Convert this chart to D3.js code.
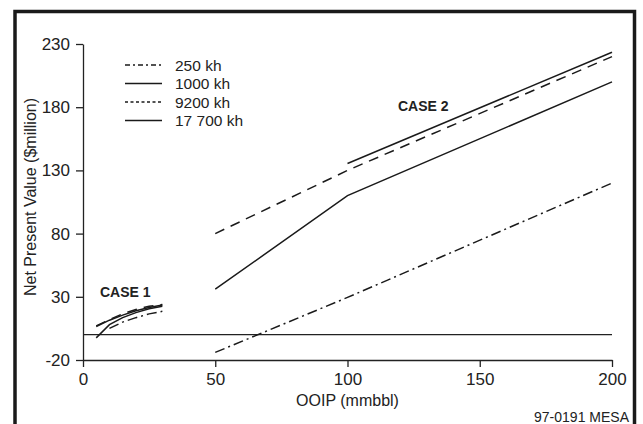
<!DOCTYPE html>
<html>
<head>
<meta charset="utf-8">
<script src="https://cdn.jsdelivr.net/npm/d3@7"></script>
<style>
  body { margin: 0; background: #fff; }
  text { fill: #222; }
</style>
</head>
<body>
<div id="myChart"></div>
<script>
// data
const seriesNames = ["250 kh", "1000 kh", "9200 kh", "17 700 kh"];

// CASE 1 (small fields)
const case1Ooip = [5, 10, 15, 20, 25, 30];
const case1Npv250 = [null, 5, 10, 13.5, 16.5, 18.5];
const case1Npv1000 = [-2.5, 8, 13.5, 17.5, 20.5, 22.5];
const case1Npv9200 = [7, 12, 16.5, 20, 22.5, 24];
const case1Npv17700 = [6.5, 11.5, 15.5, 19, 21.5, 23.5];

// CASE 2 (large fields)
const case2Ooip = [50, 100, 200];
const case2Npv250 = [-14, 29.5, 120];
const case2Npv1000 = [36, 110, 200];
const case2Npv9200 = [80, 130, 220];
const case2Npv17700 = [null, 135.5, 223.5];

const xTicks = [0, 50, 100, 150, 200];
const yTicks = [-20, 30, 80, 130, 180, 230];

const W = 643, H = 424;
const margin = { top: 44, right: 31, bottom: 64, left: 83 },
  width = W - margin.left - margin.right,
  height = H - margin.top - margin.bottom;

const lineDash = ["10,4,2,4", null, "10,7", null];
const legendDash = ["5,3,2,3", null, "3,2.5", null];

const fontFam = "'Liberation Sans', Arial, sans-serif";

const svg = d3
  .select("#myChart")
  .append("svg")
  .attr("width", W)
  .attr("height", H);

// frame around the figure (bottom runs off the page)
svg
  .append("rect")
  .attr("x", 15)
  .attr("y", 11.5)
  .attr("width", 619.5)
  .attr("height", 460)
  .attr("fill", "none")
  .attr("stroke", "#1a1a1a")
  .attr("stroke-width", 3.5);

const g = svg
  .append("g")
  .attr("transform", "translate(" + margin.left + "," + margin.top + ")");

const x = d3.scaleLinear().domain([0, 200]).range([0, width]);
const y = d3.scaleLinear().domain([-20, 230]).range([height, 0]);

// axes (plain hyphen for negatives, like the original)
const fmt = (d) => String(d);

const xAxis = g
  .append("g")
  .attr("transform", "translate(0," + height + ")")
  .call(d3.axisBottom(x).tickValues(xTicks).tickFormat(fmt).tickSize(7).tickSizeOuter(0).tickPadding(6));

const yAxis = g
  .append("g")
  .call(d3.axisLeft(y).tickValues(yTicks).tickFormat(fmt).tickSize(7).tickSizeOuter(0).tickPadding(6));

[xAxis, yAxis].forEach((a) => {
  a.selectAll("path, line").attr("stroke", "#222").attr("stroke-width", 1.3);
  a.selectAll("text")
    .style("font-family", fontFam)
    .style("font-size", "17px")
    .attr("fill", "#222");
});

// zero line
g.append("line")
  .attr("x1", x(0))
  .attr("x2", x(200))
  .attr("y1", y(0))
  .attr("y2", y(0))
  .attr("stroke", "#222")
  .attr("stroke-width", 1.3);

const line = d3
  .line()
  .defined((d) => d[1] !== null)
  .x((d) => x(d[0]))
  .y((d) => y(d[1]));

const case1 = [case1Npv250, case1Npv1000, case1Npv9200, case1Npv17700];
const case2 = [case2Npv250, case2Npv1000, case2Npv9200, case2Npv17700];

seriesNames.forEach((name, i) => {
  const pts1 = case1Ooip.map((o, j) => [o, case1[i][j]]);
  const pts2 = case2Ooip.map((o, j) => [o, case2[i][j]]);
  [pts1, pts2].forEach((pts) => {
    g.append("path")
      .datum(pts)
      .attr("d", line)
      .attr("fill", "none")
      .attr("stroke", "#1a1a1a")
      .attr("stroke-width", 1.5)
      .attr("stroke-dasharray", lineDash[i]);
  });
});

// legend
const legend = svg.append("g").attr("transform", "translate(125,65)");
seriesNames.forEach((name, i) => {
  const row = legend.append("g").attr("transform", "translate(0," + i * 18.5 + ")");
  row
    .append("line")
    .attr("x1", 0)
    .attr("x2", 37)
    .attr("y1", 0)
    .attr("y2", 0)
    .attr("stroke", "#1a1a1a")
    .attr("stroke-width", 1.5)
    .attr("stroke-dasharray", legendDash[i]);
  row
    .append("text")
    .attr("x", 50)
    .attr("y", 5.5)
    .style("font-family", fontFam)
    .style("font-size", "15.5px")
    .text(name);
});

// case labels
svg
  .append("text")
  .attr("x", 100)
  .attr("y", 297)
  .style("font-family", fontFam)
  .style("font-size", "14px")
  .style("font-weight", "bold")
  .text("CASE 1");

svg
  .append("text")
  .attr("x", 398)
  .attr("y", 111)
  .style("font-family", fontFam)
  .style("font-size", "14px")
  .style("font-weight", "bold")
  .text("CASE 2");

// axis titles
svg
  .append("text")
  .attr("x", margin.left + width / 2)
  .attr("y", 406)
  .style("text-anchor", "middle")
  .style("font-family", fontFam)
  .style("font-size", "16px")
  .text("OOIP (mmbbl)");

svg
  .append("text")
  .attr("transform", "translate(36,197) rotate(-90)")
  .style("text-anchor", "middle")
  .style("font-family", fontFam)
  .style("font-size", "16px")
  .text("Net Present Value ($million)");

// figure id
svg
  .append("text")
  .attr("x", 629)
  .attr("y", 422)
  .style("text-anchor", "end")
  .style("font-family", fontFam)
  .style("font-size", "14px")
  .text("97-0191  MESA");
</script>
</body>
</html>
